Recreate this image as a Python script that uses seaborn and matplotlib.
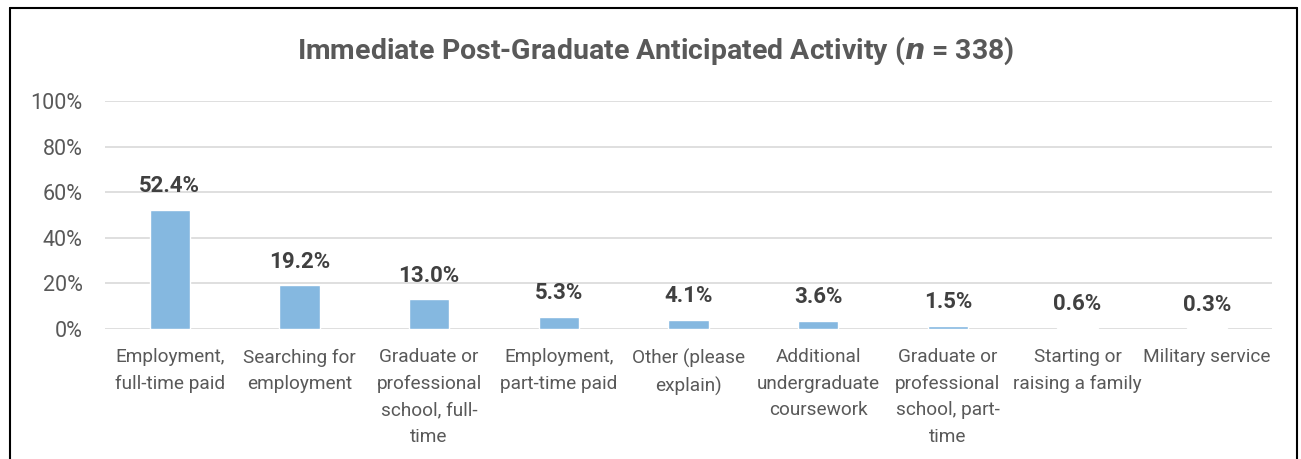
import matplotlib.pyplot as plt
import seaborn as sns
import pandas as pd
from matplotlib.lines import Line2D

sns.set_style("white")
plt.rcParams['font.family'] = ['Roboto', 'DejaVu Sans']

categories = [
    "Employment,\nfull-time paid",
    "Searching for\nemployment",
    "Graduate or\nprofessional\nschool, full-\ntime",
    "Employment,\npart-time paid",
    "Other (please\nexplain)",
    "Additional\nundergraduate\ncoursework",
    "Graduate or\nprofessional\nschool, part-\ntime",
    "Starting or\nraising a family",
    "Military service",
]
percent = [52.4, 19.2, 13.0, 5.3, 4.1, 3.6, 1.5, 0.6, 0.3]
yticks = [0, 20, 40, 60, 80, 100]

df = pd.DataFrame({"activity": categories, "pct": percent})

TEXT = "#595959"
BAR = "#85B8E0"

fig, ax = plt.subplots(figsize=(13.01, 4.59), dpi=100)
fig.subplots_adjust(left=0.0807, right=0.9777, top=0.780, bottom=0.2832)

sns.barplot(data=df, x="activity", y="pct", color=BAR, width=0.31,
            saturation=1, ax=ax, zorder=3)

ax.set_ylim(0, 100)
ax.set_yticks(yticks)
ax.set_yticklabels([f"{v}%" for v in yticks])
ax.grid(axis="y", color="#D9D9D9", linewidth=1.2, zorder=0)
ax.set_axisbelow(True)
for s in ax.spines.values():
    s.set_visible(False)
ax.set_xlabel("")
ax.set_ylabel("")
ax.tick_params(axis="y", length=0, pad=16, labelsize=15.5, labelcolor=TEXT)
ax.tick_params(axis="x", length=0, pad=14, labelsize=13.7, labelcolor=TEXT)
for lab in ax.get_xticklabels():
    lab.set_linespacing(1.6)

ax.bar_label(ax.containers[0], labels=[f"{v:.1f}%" for v in percent],
             padding=9, fontsize=16, fontweight="bold", color="#404040")

fig.text(0.504, 0.89, "Immediate Post-Graduate Anticipated Activity ($\\mathbfit{n}$ = 338)",
         ha="center", va="center", fontsize=20.5, fontweight="bold", color=TEXT)

# frame around the chart (bottom edge falls outside the image)
x0, x1 = 10 / 1301, 1297 / 1301
y1 = 1 - 8 / 459
for xs, ys in [([x0, x0], [-0.1, y1]), ([x0, x1], [y1, y1]), ([x1, x1], [y1, -0.1])]:
    fig.add_artist(Line2D(xs, ys, transform=fig.transFigure, color="black", linewidth=1.5))

plt.savefig("out.png", dpi=100)
plt.close()
